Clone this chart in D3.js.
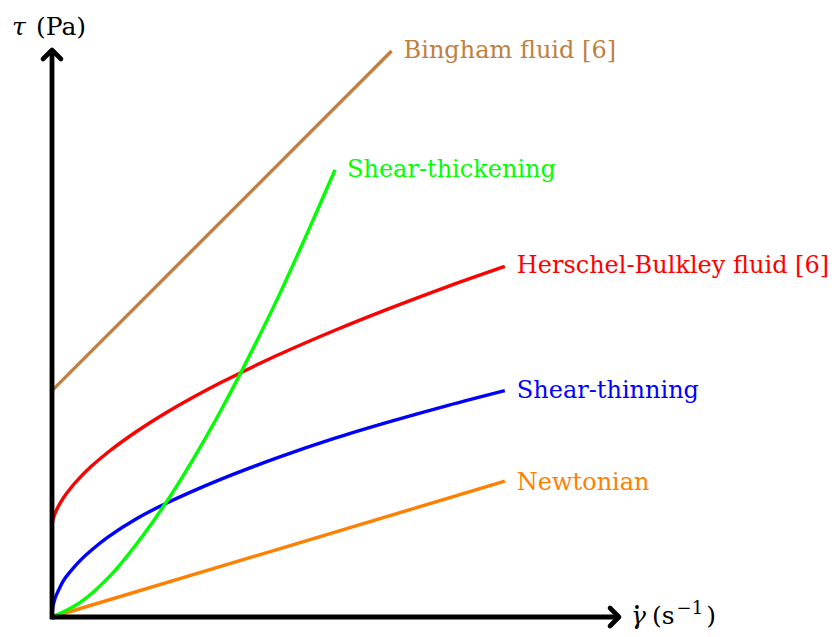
<!DOCTYPE html>
<html>
<head>
<meta charset="utf-8">
<script src="https://cdn.jsdelivr.net/npm/d3@7"></script>
<style>
  html, body { margin: 0; padding: 0; background: #fff; }
</style>
</head>
<body>
<svg id="chart" width="838" height="637"></svg>
<script>
// ---- data (axes run 0..5 in both directions) ----
const newtonianX = [0, 4];
const newtonianY = [0, 1.2];

const thinningX = [0, 0.002, 0.005, 0.01, 0.02, 0.03, 0.05, 0.1, 0.15, 0.25, 0.35, 0.5, 0.75, 1, 1.5, 2, 2.5, 3, 3.5, 4];
const thinningY = [0, 0.045, 0.071, 0.10, 0.14, 0.173, 0.22, 0.32, 0.387, 0.50, 0.592, 0.71, 0.87, 1.00, 1.22, 1.41, 1.58, 1.73, 1.87, 2.00];

const hbX = [0, 0.002, 0.005, 0.01, 0.02, 0.03, 0.05, 0.1, 0.15, 0.25, 0.35, 0.5, 0.75, 1, 1.5, 2, 2.5, 3, 3.5, 4];
const hbY = [0.80, 0.824, 0.842, 0.863, 0.896, 0.922, 0.966, 1.051, 1.120, 1.235, 1.333, 1.460, 1.641, 1.80, 2.075, 2.316, 2.533, 2.733, 2.921, 3.097];

const thickeningX = [0, 0.25, 0.5, 0.75, 1, 1.25, 1.5, 1.75, 2, 2.25, 2.5];
const thickeningY = [0, 0.13, 0.35, 0.65, 1.00, 1.40, 1.84, 2.32, 2.83, 3.38, 3.95];

const binghamX = [0, 3];
const binghamY = [2, 5];

const seriesNames  = ["Newtonian", "Shear-thinning", "Herschel-Bulkley fluid [6]", "Shear-thickening", "Bingham fluid [6]"];
const seriesColors = ["#ff8000", "#0000ff", "#ff0000", "#00ff00", "#bf8040"];

const xAxisMax = 5, yAxisMax = 5;
const yAxisTitle = ["τ", "(Pa)"];
const xAxisTitle = ["γ", "(s", "−1", ")"];

// ---- drawing ----
const FONT = "'DejaVu Serif', serif";
const FS = 24;
const svg = d3.select("#chart");
const x = d3.scaleLinear().domain([0, xAxisMax]).range([52, 618]);
const y = d3.scaleLinear().domain([0, yAxisMax]).range([617, 51]);

const series = [
  [newtonianX, newtonianY],
  [thinningX, thinningY],
  [hbX, hbY],
  [thickeningX, thickeningY],
  [binghamX, binghamY]
].map((s, i) => ({
  name: seriesNames[i],
  color: seriesColors[i],
  pts: s[0].map((v, j) => [v, s[1][j]])
}));

const line = d3.line()
  .x(d => x(d[0])).y(d => y(d[1]))
  .curve(d3.curveCatmullRom.alpha(0.5));

// curves
svg.append("g").selectAll("path").data(series).join("path")
  .attr("d", d => line(d.pts))
  .attr("fill", "none")
  .attr("stroke", d => d.color)
  .attr("stroke-width", 3.4)
  .attr("stroke-linecap", "butt");

// axes
const axisG = svg.append("g");
axisG.append("line")
  .attr("x1", x(0)).attr("y1", y(0)).attr("x2", x(xAxisMax) - 2).attr("y2", y(0))
  .attr("stroke", "#000").attr("stroke-width", 4.8);
axisG.append("line")
  .attr("x1", x(0)).attr("y1", y(0) + 2.4).attr("x2", x(0)).attr("y2", y(yAxisMax) + 2)
  .attr("stroke", "#000").attr("stroke-width", 4.8);
const tipX = x(xAxisMax) + 1, tipY = y(yAxisMax) - 1;
axisG.append("path")
  .attr("d", `M${tipX - 9},${y(0) - 9} L${tipX},${y(0)} L${tipX - 9},${y(0) + 9}`)
  .attr("fill", "none").attr("stroke", "#000").attr("stroke-width", 4.6)
  .attr("stroke-linecap", "round").attr("stroke-linejoin", "round");
axisG.append("path")
  .attr("d", `M${x(0) - 9},${tipY + 9} L${x(0)},${tipY} L${x(0) + 9},${tipY + 9}`)
  .attr("fill", "none").attr("stroke", "#000").attr("stroke-width", 4.6)
  .attr("stroke-linecap", "round").attr("stroke-linejoin", "round");

// series labels at curve ends (vertically centred like a TikZ "west" node)
const hasDepth = s => /[gjpqy\[\]]/.test(s);
svg.append("g").selectAll("text").data(series).join("text")
  .attr("x", d => x(d.pts[d.pts.length - 1][0]) + 12)
  .attr("y", d => y(d.pts[d.pts.length - 1][1]) + (hasDepth(d.name) ? 7 : 9))
  .attr("fill", d => d.color)
  .attr("font-family", FONT)
  .attr("font-size", FS)
  .text(d => d.name);

// y axis title
svg.append("text")
  .attr("x", 12).attr("y", 35)
  .attr("font-family", FONT).attr("font-size", FS + 1).attr("font-style", "italic")
  .text(yAxisTitle[0]);
svg.append("text")
  .attr("x", 36).attr("y", 35)
  .attr("font-family", FONT).attr("font-size", FS + 1)
  .text(yAxisTitle[1]);

// x axis title
svg.append("text")
  .attr("x", 631).attr("y", y(0) + 7)
  .attr("font-family", FONT).attr("font-size", FS + 1).attr("font-style", "italic")
  .text(xAxisTitle[0]);
const xt = svg.append("text")
  .attr("x", 652).attr("y", y(0) + 7)
  .attr("font-family", FONT).attr("font-size", FS + 1);
xt.append("tspan").text(xAxisTitle[1]);
xt.append("tspan").attr("font-size", 18).attr("dy", -10).attr("dx", 2).text(xAxisTitle[2]);
xt.append("tspan").attr("dy", 10).attr("dx", 3).text(xAxisTitle[3]);
// dot accent over gamma
svg.append("circle")
  .attr("cx", 637).attr("cy", 607).attr("r", 1.9).attr("fill", "#000");
</script>
</body>
</html>
